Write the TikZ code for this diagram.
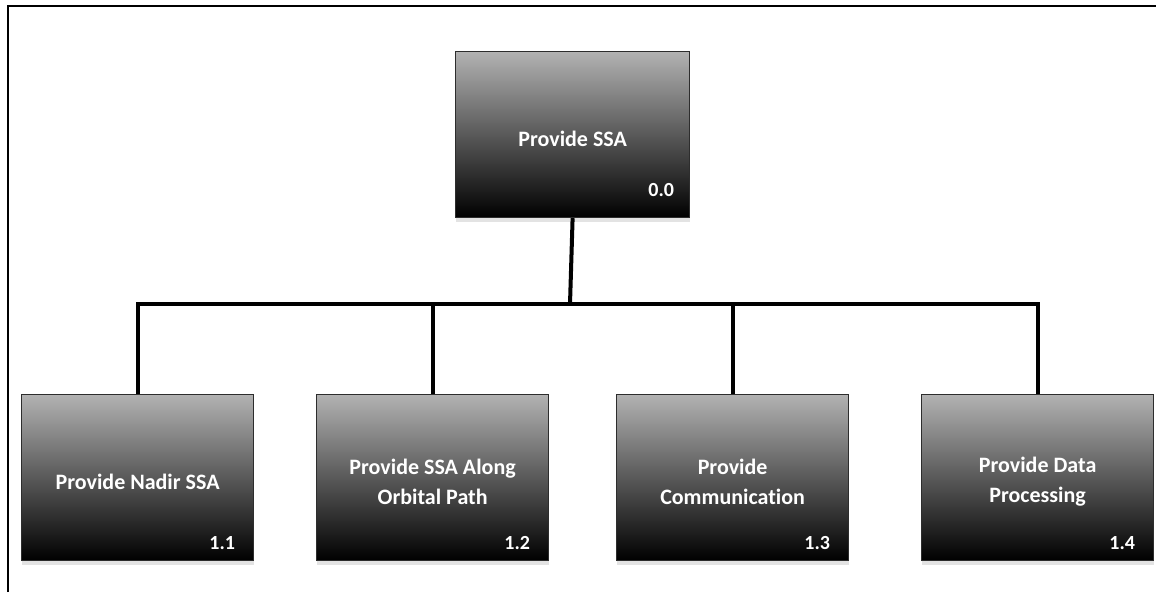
\documentclass[tikz,border=0pt]{standalone}
\usepackage{fontspec}
\setmainfont[Ligatures=NoCommon]{Carlito}
\usetikzlibrary{shadows,calc}
\definecolor{boxtop}{RGB}{178,178,178}
\definecolor{boxmid}{RGB}{92,92,92}
\definecolor{boxedge}{RGB}{45,45,45}
\tikzset{
  fnbox/.style={draw=boxedge, line width=1.2pt, minimum width=232pt, minimum height=166pt,
    anchor=north west, inner sep=0pt, shading=axis, top color=boxtop, middle color=boxmid, bottom color=black,
    drop shadow={shadow xshift=0pt, shadow yshift=-4pt, fill=black!18, opacity=0.6}},
  fntext/.style={text=white, align=center, inner sep=0pt, font=\bfseries\fontsize{22}{30}\selectfont},
  fnnum/.style={anchor=base east, text=white, inner sep=0pt, font=\bfseries\fontsize{20}{22}\selectfont},
  link/.style={line width=4pt, draw=black},
  frame/.style={line width=2pt, draw=black}
}
\begin{document}
\begin{tikzpicture}[x=1pt,y=-1pt]
\useasboundingbox (0,0) rectangle (1156,592);
\coordinate (fa) at (8,592);
\coordinate (fb) at (8,6);
\coordinate (fc) at (1156,6);
\draw[frame] (fa) -- (fb) -- (fc);

\node[fnbox, minimum width=234pt] (top) at (455,51) {};
\node[fnbox] (c1) at (21,394) {};
\node[fnbox] (c2) at (316,394) {};
\node[fnbox] (c3) at (616,394) {};
\node[fnbox] (c4) at (921,394) {};

\node[fntext] (t0) at ($(top.center)+(0,4)$) {Provide SSA};
\node[fntext] (t1) at ($(c1.center)+(0,4)$) {Provide Nadir SSA};
\node[fntext] (t2) at ($(c2.center)+(0,4)$) {Provide SSA Along\\Orbital Path};
\node[fntext] (t3) at ($(c3.center)+(0,4)$) {Provide\\Communication};
\node[fntext] (t4) at ($(c4.center)+(0,4)$) {Provide Data\\Processing};

\node[fnnum] (n0) at ($(top.south east)+(-16,-22)$) {0.0};
\node[fnnum] (n1) at ($(c1.south east)+(-19,-12)$) {1.1};
\node[fnnum] (n2) at ($(c2.south east)+(-19,-12)$) {1.2};
\node[fnnum] (n3) at ($(c3.south east)+(-19,-12)$) {1.3};
\node[fnnum] (n4) at ($(c4.south east)+(-19,-12)$) {1.4};

\coordinate (bus) at (570,304);
\draw[link] (top.south) -- (bus);
\draw[link] (c1.north) -- (c1.north |- bus) -- (c4.north |- bus) -- (c4.north);
\draw[link] (c2.north) -- (c2.north |- bus);
\draw[link] (c3.north) -- (c3.north |- bus);
\end{tikzpicture}
\end{document}
